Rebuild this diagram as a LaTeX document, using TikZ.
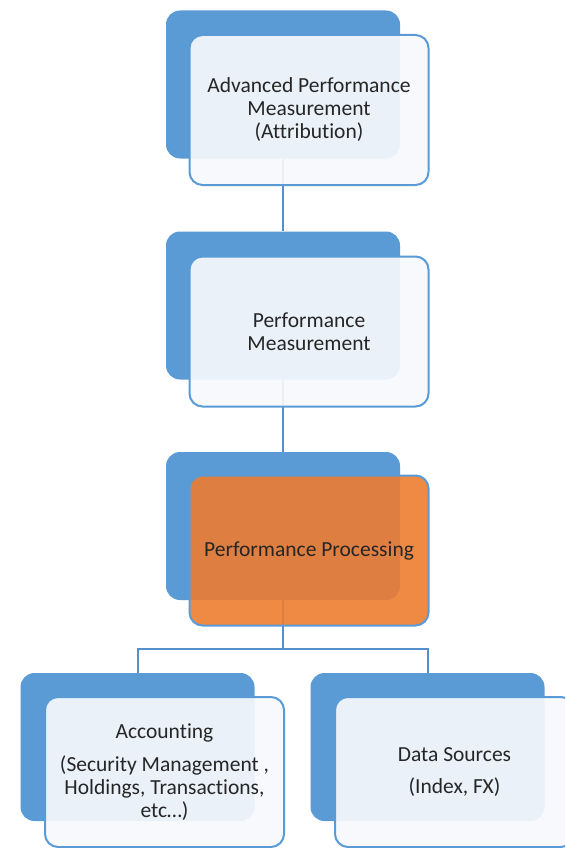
\documentclass[tikz,border=0pt]{standalone}
\usepackage{fontspec}
\setmainfont{Carlito}[Ligatures=NoCommon]
\definecolor{sablue}{HTML}{5B9BD5}
\definecolor{salink}{HTML}{5590CC}
\definecolor{salight}{HTML}{F7F9FD}
\definecolor{saorange}{HTML}{ED7D31}
\definecolor{satext}{HTML}{262626}
\begin{document}
\begin{tikzpicture}[x=1pt,y=-1pt,
  backbox/.style={fill=sablue, draw=none, rounded corners=14pt, minimum width=234pt, minimum height=148pt, inner sep=0pt},
  frontbox/.style={fill=salight, fill opacity=0.92, text opacity=1, draw=sablue, line width=2pt, rounded corners=13pt, minimum width=239pt, minimum height=150pt, inner sep=0pt, align=center, text=satext, font=\fontsize{21.5}{23}\selectfont},
  orangebox/.style={frontbox, fill=saorange, fill opacity=0.9},
  link/.style={draw=salink, line width=2pt}]
\useasboundingbox (0,0) rectangle (565,848);
\clip (0,0) rectangle (565,848);
% back boxes
\node[backbox] (b1) at (283,84.5) {};
\node[backbox] (b2) at (283,305.5) {};
\node[backbox] (b3) at (283,526) {};
\node[backbox] (b4) at (137.5,747) {};
\node[backbox] (b5) at (427.5,747) {};
% connectors
\coordinate (j) at (283,649);
\draw[link] (b1.south) -- (b2.north);
\draw[link] (b2.south) -- (b3.north);
\draw[link] (b3.south) -- (j) -| (b4.north);
\draw[link] (j) -| (b5.north);
% front boxes
\node[frontbox] (f1) at (309,110) {Advanced Performance\\Measurement\\(Attribution)};
\node[frontbox] (f2) at (309,331.5) {Performance\\Measurement};
\node[orangebox] (f3) at (309,550.5) {Performance Processing};
\node[frontbox] (f4) at (164.5,772) {Accounting\\[10pt](Security Management ,\\Holdings, Transactions,\\etc…)};
\node[frontbox] (f5) at (454.5,772) {Data Sources\\[9pt](Index, FX)};
\end{tikzpicture}
\end{document}
